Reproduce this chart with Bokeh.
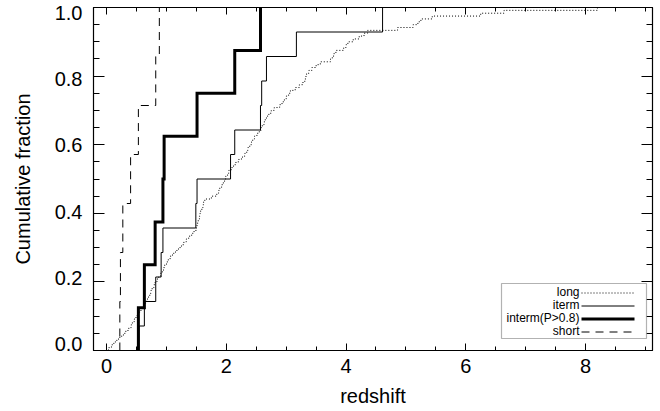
from bokeh.plotting import figure
from bokeh.models import (Range1d, LinearAxis, SingleIntervalTicker, FixedTicker,
                          Label, BoxAnnotation, Arrow, CustomJSTickFormatter)
from bokeh.embed import file_html
from bokeh.resources import INLINE

# Sorted redshifts of each burst class
long_z = [0.03, 0.08, 0.12, 0.17, 0.22, 0.28, 0.32, 0.37, 0.41, 0.43,
          0.46, 0.49, 0.51, 0.55, 0.58, 0.62, 0.65, 0.67, 0.70, 0.72,
          0.74, 0.76, 0.79, 0.81, 0.84, 0.87, 0.90, 0.93, 0.95, 0.97,
          1.00, 1.03, 1.06, 1.10, 1.15, 1.20, 1.25, 1.29, 1.33, 1.37,
          1.42, 1.46, 1.50, 1.51, 1.52, 1.53, 1.55, 1.56, 1.57, 1.59,
          1.61, 1.62, 1.64, 1.75, 1.84, 1.87, 1.89, 1.92, 1.95, 1.97,
          1.99, 2.02, 2.04, 2.08, 2.12, 2.16, 2.21, 2.27, 2.31, 2.34,
          2.36, 2.39, 2.42, 2.44, 2.47, 2.51, 2.55, 2.58, 2.60, 2.63,
          2.65, 2.67, 2.71, 2.75, 2.80, 2.89, 2.93, 2.97, 3.00, 3.04,
          3.07, 3.15, 3.22, 3.28, 3.31, 3.33, 3.34, 3.38, 3.43, 3.50,
          3.57, 3.74, 3.77, 3.80, 3.83, 3.96, 4.00, 4.03, 4.12, 4.22,
          4.30, 4.36, 4.86, 5.12, 5.20, 5.25, 5.44, 6.25, 6.64, 8.20]
iterm_z = [0.54, 0.63, 0.82, 0.91, 0.94, 1.49, 1.51, 2.07, 2.14, 2.57,
           2.59, 2.67, 3.17, 4.61]
interm_p08_z = [0.53, 0.63, 0.81, 0.94, 0.96, 1.51, 2.14, 2.57]
short_z = [0.22, 0.23, 0.27, 0.40, 0.53, 0.82, 0.88]

series_labels = ["long", "iterm", "interm(P>0.8)", "short"]
y_tick_values = [0.0, 0.2, 0.4, 0.6, 0.8, 1.0]

FONT = "Liberation Sans"
X_LO, X_HI = -0.22, 9.12
Y_LO, Y_HI = 0.0, 1.0
FRAME_H = 343
# the left labels are pulled slightly inside the frame at both ends
LABEL_INSET_BOTTOM_PX = 6.5
LABEL_INSET_TOP_PX = 5.5


def cdf_path(z):
    """Staircase of the empirical cumulative distribution."""
    z = sorted(z)
    n = len(z)
    xs, ys = [], []
    for i, v in enumerate(z):
        xs += [v, v]
        ys += [i / n, (i + 1) / n]
    return xs, ys


p = figure(width=660, height=411, output_backend="svg", toolbar_location=None,
           x_range=Range1d(X_LO, X_HI), y_range=Range1d(Y_LO, Y_HI),
           min_border_left=93, min_border_right=8, min_border_top=7,
           min_border_bottom=61)
p.grid.visible = False
p.background_fill_color = "white"
p.border_fill_color = "white"
p.outline_line_color = "black"
p.outline_line_width = 1

styles = [
    dict(line_width=1, line_dash="1 2"),
    dict(line_width=1),
    dict(line_width=3),
    dict(line_width=1, line_dash="8 6"),
]
for z, st in zip([long_z, iterm_z, interm_p08_z, short_z], styles):
    xs, ys = cdf_path(z)
    p.line(xs, ys, line_color="black", line_join="miter", **st)

blank = CustomJSTickFormatter(code="return '';")


def style_axis(ax, tick_len, minor_len):
    ax.axis_line_color = "black"
    ax.axis_line_width = 1.2
    ax.major_tick_line_color = "black"
    ax.minor_tick_line_color = "black"
    ax.major_tick_in = tick_len
    ax.major_tick_out = 0
    ax.minor_tick_in = minor_len
    ax.minor_tick_out = 0
    ax.major_label_text_font = FONT
    ax.major_label_text_font_size = "20px"
    ax.major_label_text_color = "black"
    ax.axis_label_text_font = FONT
    ax.axis_label_text_font_size = "20px"
    ax.axis_label_text_font_style = "normal"
    ax.axis_label_text_color = "black"


# bottom axis: ticks and labels
p.xaxis.ticker = SingleIntervalTicker(interval=2, num_minor_ticks=4)
style_axis(p.xaxis[0], 7, 4)
p.xaxis.axis_label = "redshift"
p.xaxis.major_label_standoff = 8
p.xaxis.axis_label_standoff = 9

# left axis: tick marks only
p.yaxis.ticker = SingleIntervalTicker(interval=0.2, num_minor_ticks=4)
style_axis(p.yaxis[0], 11, 6)
p.yaxis.formatter = blank
p.yaxis.major_label_standoff = 0

# left labels
span = Y_HI - Y_LO
lab_a = Y_LO + LABEL_INSET_BOTTOM_PX * span / FRAME_H
lab_b = (FRAME_H - LABEL_INSET_BOTTOM_PX - LABEL_INSET_TOP_PX) / FRAME_H
ylab = LinearAxis(ticker=FixedTicker(ticks=[lab_a + lab_b * v for v in y_tick_values],
                                     minor_ticks=[]),
                  formatter=CustomJSTickFormatter(
                      code="return ((tick - %r) / %r).toFixed(1);" % (lab_a, lab_b)))
style_axis(ylab, 0, 0)
ylab.axis_line_color = None
ylab.major_tick_line_color = None
ylab.minor_tick_line_color = None
ylab.major_label_standoff = 11
ylab.axis_label = "Cumulative fraction"
ylab.axis_label_standoff = 18
p.add_layout(ylab, "left")

top = LinearAxis(ticker=SingleIntervalTicker(interval=2, num_minor_ticks=4),
                 formatter=blank)
style_axis(top, 7, 4)
top.major_label_standoff = 0
p.add_layout(top, "above")
right = LinearAxis(ticker=SingleIntervalTicker(interval=0.2, num_minor_ticks=4),
                   formatter=blank)
style_axis(right, 11, 6)
right.major_label_standoff = 0
p.add_layout(right, "right")

# Legend: labels right-aligned, line samples to their right
p.add_layout(BoxAnnotation(left=408, right=553, bottom=12, top=67,
                           left_units="screen", right_units="screen",
                           bottom_units="screen", top_units="screen",
                           fill_color="white", fill_alpha=1,
                           line_color="black", line_width=1.2))
row_y = [59, 46, 33, 20]
for lab, st, y in zip(series_labels, styles, row_y):
    p.add_layout(Label(x=486, y=y, x_units="screen", y_units="screen",
                       text=lab, text_align="right", text_baseline="middle",
                       text_font=FONT, text_font_size="12px",
                       text_color="black"))
    p.add_layout(Arrow(x_start=488, y_start=y - 1.5, x_end=541, y_end=y - 1.5,
                       start_units="screen", end_units="screen",
                       start=None, end=None, line_color="black", **st))

open("out.html", "w").write(file_html(p, INLINE))
